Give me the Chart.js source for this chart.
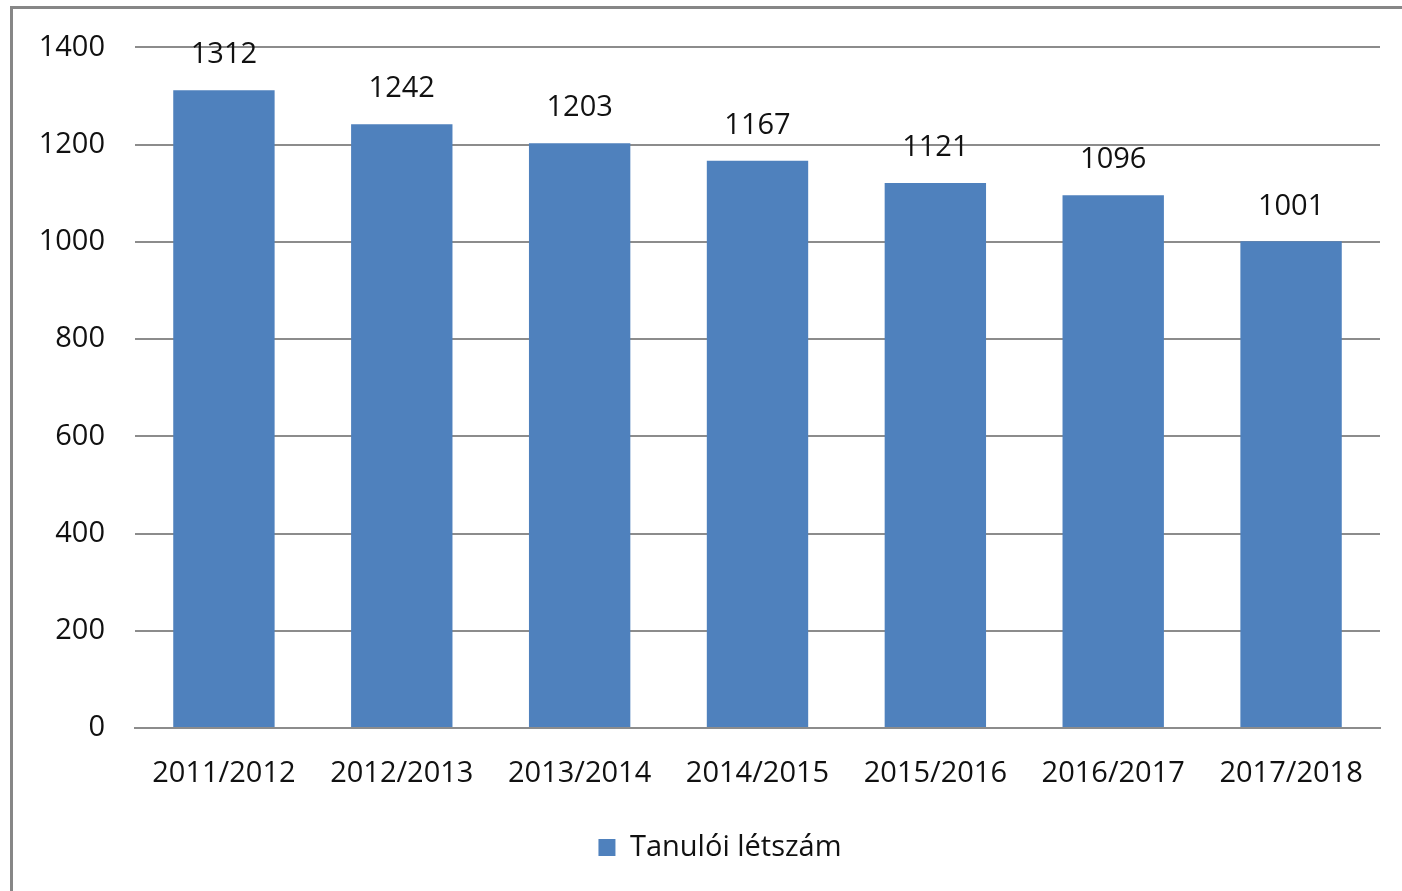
<!DOCTYPE html>
<html>
<head>
<meta charset="utf-8">
<script src="https://cdn.jsdelivr.net/npm/chart.js@4"></script>
<style>
  html, body { margin: 0; padding: 0; background: #fff; overflow: hidden; }
  #wrap { position: relative; width: 1402px; height: 891px; }
  #frame {
    position: absolute; left: 10px; top: 6px; width: 1500px; height: 1000px;
    border-left: 3px solid #878787; border-top: 3px solid #878787;
    pointer-events: none;
  }
</style>
</head>
<body>
<div id="wrap">
  <canvas id="chart" width="1402" height="891"></canvas>
  <div id="frame"></div>
</div>
<script>
const categories = ["2011/2012", "2012/2013", "2013/2014", "2014/2015", "2015/2016", "2016/2017", "2017/2018"];
const studentCounts = [1312, 1242, 1203, 1167, 1121, 1096, 1001];
const seriesLabel = "Tanulói létszám";
const yTicks = [0, 200, 400, 600, 800, 1000, 1200, 1400];

const FONT = "'Open Sans', sans-serif";
const TEXT = "#111";
const SIZE = 29;

// draws the value above each bar
const valueLabels = {
  id: "valueLabels",
  afterDatasetsDraw(chart) {
    const ctx = chart.ctx;
    const meta = chart.getDatasetMeta(0);
    ctx.save();
    ctx.font = SIZE + "px " + FONT;
    ctx.fillStyle = TEXT;
    ctx.textAlign = "center";
    ctx.textBaseline = "middle";
    meta.data.forEach((bar, i) => {
      ctx.fillText(studentCounts[i], bar.x, bar.y - 35);
    });
    ctx.restore();
  }
};

// nudge the legend a bit to the right, like the original
const legendShift = {
  id: "legendShift",
  afterLayout(chart) {
    chart.legend.left += 13;
    chart.legend.right += 13;
  }
};

new Chart(document.getElementById("chart"), {
  type: "bar",
  data: {
    labels: categories,
    datasets: [{
      label: seriesLabel,
      data: studentCounts,
      backgroundColor: "#4f81bd",
      borderWidth: 0,
      categoryPercentage: 1,
      barPercentage: 0.57
    }]
  },
  options: {
    responsive: false,
    animation: false,
    layout: { padding: { top: 34, right: 22, bottom: 19, left: 34 } },
    plugins: {
      tooltip: { enabled: false },
      legend: {
        position: "bottom",
        labels: {
          font: { family: FONT, size: SIZE },
          color: TEXT,
          boxWidth: 17,
          boxHeight: 17,
          padding: 20
        }
      }
    },
    scales: {
      x: {
        grid: { display: false },
        border: { display: true, color: "#8c8c8c", width: 2 },
        ticks: { font: { family: FONT, size: SIZE }, color: TEXT, padding: 20, maxRotation: 0 },
        afterFit(s) { s.height = 85; }
      },
      y: {
        min: 0,
        max: 1400,
        afterBuildTicks(s) { s.ticks = yTicks.map(v => ({ value: v })); },
        grid: { color: "#8c8c8c", lineWidth: 2, drawTicks: false },
        border: { display: false },
        ticks: {
          font: { family: FONT, size: SIZE },
          color: TEXT,
          padding: 30,
          callback: v => String(v)
        },
        afterFit(s) { s.width = 101; }
      }
    }
  },
  plugins: [valueLabels, legendShift]
});
</script>
</body>
</html>
